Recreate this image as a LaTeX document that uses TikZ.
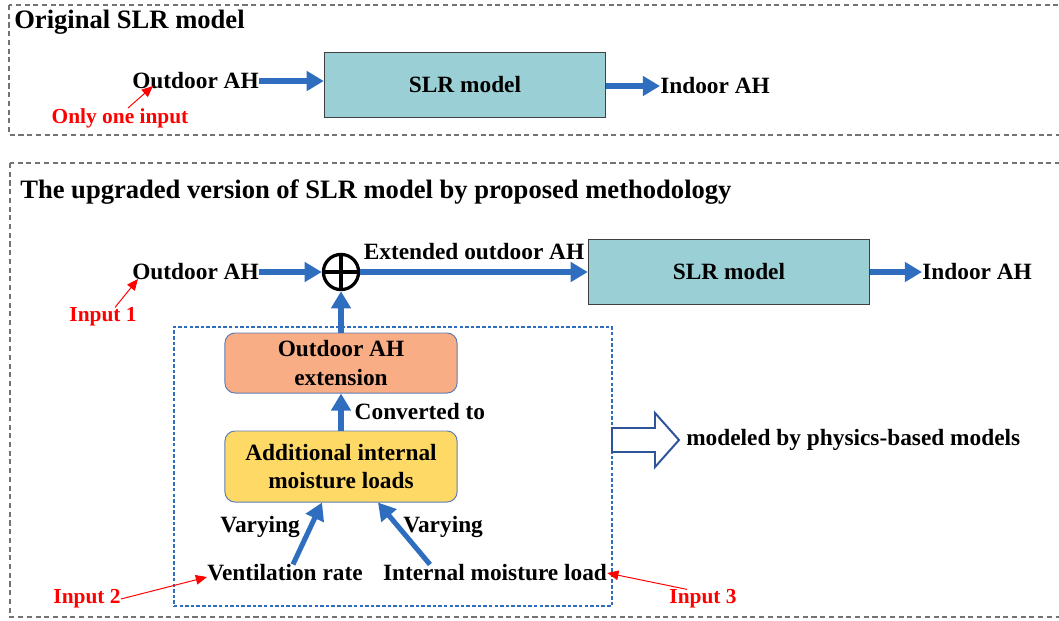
\documentclass[tikz,border=0pt]{standalone}
\usepackage{fontspec}
\setmainfont{Liberation Serif}
\usetikzlibrary{positioning, arrows.meta}

\definecolor{flowblue}{RGB}{47,110,191}
\definecolor{slrfill}{RGB}{154,207,214}
\definecolor{extfill}{RGB}{248,173,132}
\definecolor{addfill}{RGB}{255,217,102}
\definecolor{boxedge}{RGB}{95,125,180}
\definecolor{hollowedge}{RGB}{46,85,151}
\definecolor{sepgray}{RGB}{115,115,115}

\begin{document}
\begin{tikzpicture}[x=0.025cm, y=-0.025cm,
    lbl/.style={font=\fontsize{16.6}{20.3}\selectfont\bfseries, inner sep=0pt},
    ttl/.style={font=\fontsize{18.9}{22}\selectfont\bfseries, inner sep=0pt},
    note/.style={font=\fontsize{15.2}{18}\selectfont\bfseries, text=red, inner sep=0pt},
    slr/.style={draw=black!75, line width=0.8pt, fill=slrfill, minimum width=7.03cm, minimum height=1.63cm, lbl},
    stepbox/.style={draw=boxedge, line width=0.7pt, rounded corners=0.25cm, minimum width=5.8cm, align=center, lbl},
    flow/.style={draw=flowblue, line width=3.6pt, -{Triangle[length=0.43cm, width=0.48cm]}},
    redarr/.style={draw=red, line width=0.7pt, -{Triangle[length=0.28cm, width=0.24cm]}},
    section/.style={draw=sepgray, line width=1pt, dash pattern=on 3.6pt off 2.6pt}]
    \useasboundingbox (0,0) rectangle (1059,620);

    % two sections
    \draw[section] (9,5) rectangle (1075,135);
    \draw[section] (10,163) rectangle (1075,617);
    \node[ttl, anchor=west] (t1) at (14,22) {Original SLR model};
    \node[ttl, anchor=west] (t2) at (20,192) {The upgraded version of SLR model by proposed methodology};

    % original model
    \node[lbl, anchor=west] (oa1) at (132,81) {Outdoor AH};
    \node[slr] (slr1) at (465,85) {SLR model};
    \node[lbl, anchor=west] (ia1) at (660,86) {Indoor AH};
    \node[note] (only) at (120,118) {Only one input};
    \coordinate (p1) at (153,86);

    \path
    (oa1.east) edge[flow] (oa1.east -| slr1.west)
    (slr1.east |- ia1) edge[flow] (ia1.west)
    ([xshift=0.2cm]only.north) edge[redarr] (p1);

    % upgraded model
    \node[lbl, anchor=west] (oa2) at (132,272) {Outdoor AH};
    \node[circle, draw, line width=2.3pt, minimum size=0.88cm, inner sep=0pt] (sum) at (341,272) {};
    \draw[line width=2.3pt] (sum.north) -- (sum.south) (sum.west) -- (sum.east);
    \node[slr] (slr2) at (729,272) {SLR model};
    \node[lbl, anchor=west] (ia2) at (922,272) {Indoor AH};
    \node[note] (in1) at (103,317) {Input 1};
    \coordinate (p2) at (138,279);

    \node[draw=flowblue, line width=1pt, dash pattern=on 2.5pt off 1.5pt, minimum width=10.95cm, minimum height=6.975cm] (grp) at (393,466.5) {};
    \node[stepbox, fill=extfill, minimum height=1.5cm] (ext) at (341,363) {Outdoor AH\\extension};
    \node[stepbox, fill=addfill, minimum height=1.775cm] (add) at (341,466.5) {Additional internal\\moisture loads};
    \node[lbl] (vent) at (285,573) {Ventilation rate};
    \node[lbl] (iml) at (495,573) {Internal moisture load};
    \node[note] (in2) at (87,599) {Input 2};
    \node[note] (in3) at (703,599) {Input 3};
    \node[lbl, anchor=west] (mod) at (686,440) {modeled by physics-based models};

    \path
    (oa2.east) edge[flow] (sum.west)
    (sum.east) edge[flow] node[lbl, above=0.25cm] {Extended outdoor AH} (slr2.west)
    (slr2.east) edge[flow] (ia2.west)
    (ext.north) edge[flow] (sum.south)
    (add.north) edge[flow] node[lbl, right=0.28cm] {Converted to} (ext.south)
    ([xshift=0.2cm]vent.north) edge[flow] node[lbl, pos=0.6, left=0.2cm] {Varying} ([xshift=-0.475cm]add.south)
    ([xshift=-1.625cm]iml.north) edge[flow] node[lbl, pos=0.6, right=0.05cm] {Varying} ([xshift=0.925cm]add.south)
    ([xshift=0.3cm]in1.north) edge[redarr] (p2)
    (in2.east) edge[redarr] ([yshift=-0.1cm]vent.west)
    ([xshift=-0.4cm]in3.north) edge[redarr] (iml.east);

    % hollow arrow to the note
    \draw[draw=hollowedge, line width=1.4pt, fill=white, line join=miter]
    (612,428) -- (655,428) -- (655,413) -- (679,440) -- (655,467) -- (655,452) -- (612,452) -- cycle;
\end{tikzpicture}
\end{document}
